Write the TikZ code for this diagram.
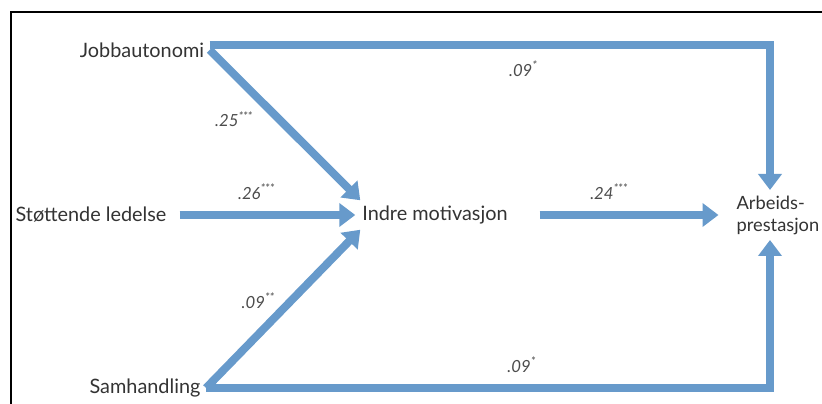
\documentclass[tikz,border=0pt]{standalone}
\usepackage{fontspec}
\setmainfont{Lato}
\usetikzlibrary{arrows.meta, positioning, calc}
\definecolor{pathblue}{RGB}{103,154,203}

\begin{document}
\begin{tikzpicture}[
  x=0.2mm, y=0.2mm,
  var/.style={font=\fontsize{11.3}{13}\selectfont, text=black!80, inner sep=3pt},
  flow/.style={-{Triangle[length=3.2mm, width=4.6mm]}, line width=1.6mm, draw=pathblue},
  coef/.style={font=\fontsize{9.5}{10}\selectfont\itshape, text=black!70, inner sep=1pt}
]
\clip (0,0) rectangle (822,403);
\draw[line width=0.4mm] (11,-10) -- (11,391) -- (840,391);

\node[var] (jobb)  at (142,353) {Jobbautonomi};
\node[var] (stott) at (91,188)  {Støttende ledelse};
\node[var] (samh)  at (145,15)  {Samhandling};
\node[var, inner xsep=1pt] (indre) at (435,188) {Indre motivasjon};
\node[var, font=\fontsize{10.4}{12.5}\selectfont, align=left, anchor=west] (arb) at (731,188) {Arbeids-\\prestasjon};
\coordinate (rcol) at (770,0);

% direct paths to Arbeidsprestasjon
\draw[flow] ([yshift=1mm]jobb.east) -| node[coef, pos=0.28, below=2mm]{.09\textsuperscript{*}} (rcol |- arb.north);
\draw[flow] (samh.east) -| node[coef, pos=0.28, above=2mm]{.09\textsuperscript{*}} (rcol |- arb.south);

% paths to Indre motivasjon
\draw[flow] (jobb.east) -- node[coef, pos=0.46, left=4mm]{.25\textsuperscript{***}} (indre.north west);
\draw[flow, shorten <=1.5mm, shorten >=1mm] (stott.east) -- node[coef, pos=0.45, above=2mm]{.26\textsuperscript{***}} (indre.west);
\draw[flow] (samh.east) -- node[coef, pos=0.55, left=2mm]{.09\textsuperscript{**}} (indre.south west);

\draw[flow, shorten <=6mm, shorten >=2.5mm] (indre.east) -- node[coef, pos=0.45, above=2mm]{.24\textsuperscript{***}} (arb.west);
\end{tikzpicture}
\end{document}
